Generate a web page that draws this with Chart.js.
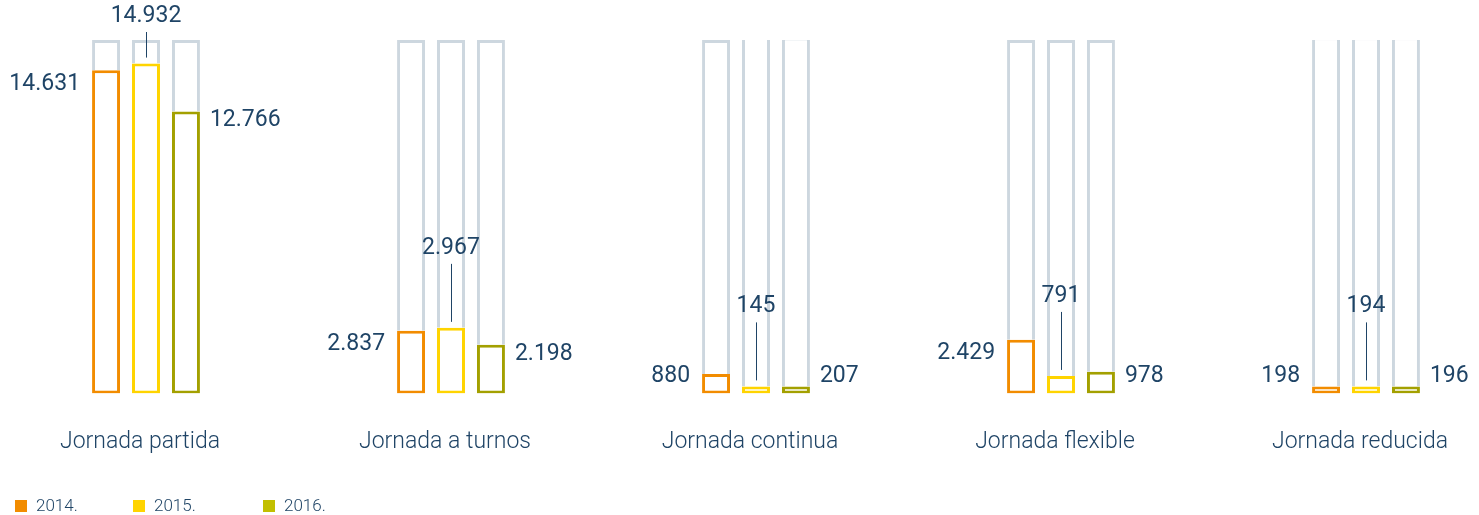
<!DOCTYPE html>
<html lang="es">
<head>
  <meta charset="UTF-8">
  <title>Tipos de jornada</title>
  <script src="https://cdn.jsdelivr.net/npm/chart.js"></script>
  <style>
    html, body { margin: 0; padding: 0; background: #fff; }
    #wrap { position: relative; width: 1479px; height: 515px; }
    #legend { position: absolute; left: 0; top: 495px; width: 100%; height: 20px;
              font-family: Roboto, "Open Sans", sans-serif; font-weight: 300; font-size: 17px; color: #1f4466; }
    #legend span.item { position: absolute; top: 0; white-space: nowrap; }
    #legend span.box { display: inline-block; width: 12px; height: 12px; margin-right: 9px; vertical-align: -1px; }
  </style>
</head>
<body>
<div id="wrap">
  <canvas id="chart"></canvas>
  <div id="legend"></div>
</div>

<script>
  // datos
  const categories = ['Jornada partida', 'Jornada a turnos', 'Jornada continua', 'Jornada flexible', 'Jornada reducida'];
  const years = ['2014.', '2015.', '2016.'];
  const values2014 = [14631, 2837, 880, 2429, 198];
  const values2015 = [14932, 2967, 145, 791, 194];
  const values2016 = [12766, 2198, 207, 978, 196];
  const scaleMax = 16000;

  const barColors = ['#f28c00', '#ffd400', '#a3a000'];
  const legendColors = ['#f28c00', '#ffd400', '#c2bf00'];
  const bgColor = '#cdd7df';
  const textColor = '#1f4466';
  const fontFamily = 'Roboto, "Open Sans", sans-serif';

  function fmt(v) {
    return String(v).replace(/\B(?=(\d{3})+(?!\d))/g, '.');
  }

  const series = [values2014, values2015, values2016];

  // barra de color + resto gris hasta el máximo, apiladas por año
  const valueSets = series.map((vals, k) => ({
    label: years[k],
    data: vals.map((v, i) => ({ x: i, y: v })),
    stack: 's' + k,
    backgroundColor: '#ffffff',
    borderColor: barColors[k],
    borderWidth: 3,
    borderSkipped: false,
    minBarLength: 7
  }));

  const restSets = series.map((vals, k) => ({
    label: 'rest' + k,
    data: vals.map((v, i) => ({ x: i, y: scaleMax - v })),
    stack: 's' + k,
    backgroundColor: '#ffffff',
    borderColor: bgColor,
    borderWidth: 3,
    borderSkipped: 'start'
  }));

  // etiquetas de valor
  const valueLabels = {
    id: 'valueLabels',
    afterDatasetsDraw(chart) {
      const ctx = chart.ctx;
      ctx.save();
      ctx.font = '400 23px ' + fontFamily;
      ctx.fillStyle = textColor;
      ctx.strokeStyle = textColor;
      ctx.lineWidth = 1;
      ctx.textBaseline = 'middle';
      for (let k = 0; k < 3; k++) {
        const meta = chart.getDatasetMeta(k);
        meta.data.forEach((el, i) => {
          const v = series[k][i];
          const top = el.y, base = el.base;
          const left = el.x - el.width / 2, right = el.x + el.width / 2;
          if (k === 0) {
            ctx.textAlign = 'right';
            ctx.fillText(fmt(v), left - 12, Math.min(top + 14, base - 17));
          } else if (k === 2) {
            ctx.textAlign = 'left';
            ctx.fillText(fmt(v), right + 10, Math.min(top + 9, base - 17));
          } else {
            const ly = Math.max(top - 80, 16);
            ctx.textAlign = 'center';
            ctx.fillText(fmt(v), el.x, ly);
            ctx.beginPath();
            ctx.moveTo(Math.round(el.x) + 0.5, ly + 16);
            ctx.lineTo(Math.round(el.x) + 0.5, top - 6);
            ctx.stroke();
          }
        });
      }
      ctx.restore();
    }
  };

  const xMin = -0.4787, xMax = 4.3705;

  new Chart(document.getElementById('chart'), {
    type: 'bar',
    data: { datasets: valueSets.concat(restSets) },
    options: {
      responsive: true,
      maintainAspectRatio: false,
      animation: false,
      categoryPercentage: 0.393,
      barPercentage: 0.7,
      layout: { padding: { top: 40, bottom: 24, left: 0, right: 0 } },
      plugins: { legend: { display: false }, tooltip: { enabled: false } },
      scales: {
        x: {
          type: 'linear', min: xMin, max: xMax, offset: false,
          grid: { display: false, drawTicks: false },
          border: { display: false },
          // que las etiquetas no encojan el área del gráfico
          afterFit: scale => { scale.paddingLeft = 0; scale.paddingRight = 0; },
          ticks: {
            stepSize: 1, includeBounds: false, autoSkip: false, maxRotation: 0,
            padding: 35, labelOffset: -6, color: textColor,
            font: { family: fontFamily, size: 23, weight: '300' },
            callback: v => categories[v] ?? ''
          }
        },
        y: { stacked: true, min: 0, max: scaleMax, display: false }
      }
    },
    plugins: [valueLabels]
  });

  // leyenda
  const legendX = [15, 133, 263];
  const legend = document.getElementById('legend');
  years.forEach((y, k) => {
    const item = document.createElement('span');
    item.className = 'item';
    item.style.left = legendX[k] + 'px';
    item.innerHTML = '<span class="box" style="background:' + legendColors[k] + '"></span>' + y;
    legend.appendChild(item);
  });
</script>
</body>
</html>
